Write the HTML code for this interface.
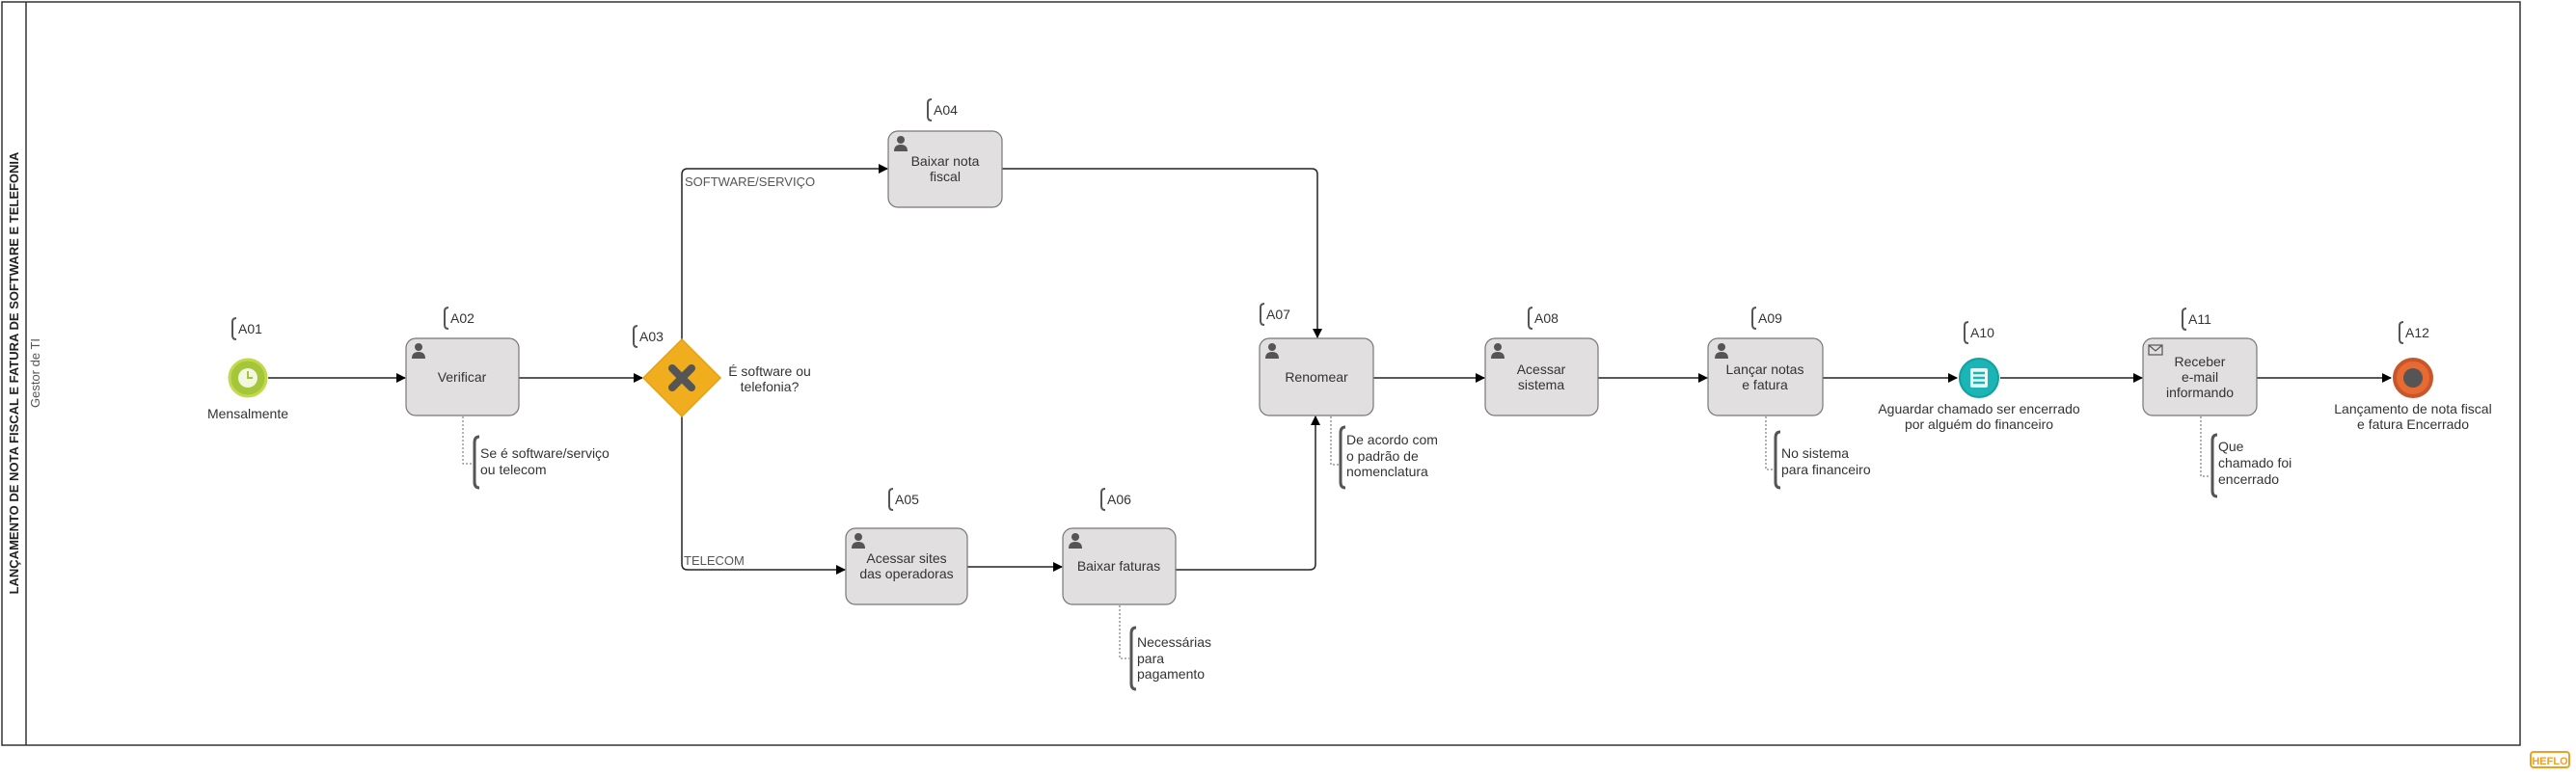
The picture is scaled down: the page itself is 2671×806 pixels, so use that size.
<!DOCTYPE html>
<html><head><meta charset="utf-8"><style>
html,body{margin:0;padding:0;background:#fff}
svg{display:block}
text{font-family:"Liberation Sans",sans-serif;fill:#333;font-size:14px}
.t{text-anchor:middle}
</style></head><body>
<svg width="2671" height="806" viewBox="0 0 2671 806" xmlns="http://www.w3.org/2000/svg">
<defs>
<marker id="ar" markerWidth="10" markerHeight="10" refX="9" refY="5" orient="auto" markerUnits="userSpaceOnUse"><path d="M0,0 L10,5 L0,10 z" fill="#000"/></marker>
<g id="user"><circle cx="0" cy="-4" r="4" fill="#555"/><path d="M-7,8 Q-7,1 0,1 Q7,1 7,8 z" fill="#555"/></g>
<path id="br" d="M6,0 Q0,0 0,6 L0,22 Q0,28 6,28" fill="none" stroke="#555" stroke-width="2.5"/>
</defs>
<!-- pool -->
<rect x="2" y="2" width="2611" height="771" fill="#fff" stroke="#333" stroke-width="1.5"/>
<line x1="27" y1="2" x2="27" y2="773" stroke="#333" stroke-width="1.5"/>
<text transform="translate(19,387) rotate(-90)" class="t" style="font-size:13px;font-weight:bold;fill:#222">LANÇAMENTO DE NOTA FISCAL E FATURA DE SOFTWARE E TELEFONIA</text>
<text transform="translate(41,387) rotate(-90)" class="t" style="font-size:13px;fill:#555">Gestor de TI</text>

<!-- connectors -->
<g stroke="#222" stroke-width="1.5" fill="none">
<line x1="278" y1="392" x2="420" y2="392" marker-end="url(#ar)"/>
<line x1="538" y1="392" x2="666" y2="392" marker-end="url(#ar)"/>
<path d="M707,352 L707,181 Q707,175 713,175 L920,175" marker-end="url(#ar)"/>
<path d="M707,432 L707,585 Q707,591 713,591 L876,591" marker-end="url(#ar)"/>
<line x1="1003" y1="588" x2="1101" y2="588" marker-end="url(#ar)"/>
<path d="M1039,175 L1360,175 Q1366,175 1366,181 L1366,350" marker-end="url(#ar)"/>
<path d="M1219,591 L1358,591 Q1364,591 1364,585 L1364,432" marker-end="url(#ar)"/>
<line x1="1424" y1="392" x2="1539" y2="392" marker-end="url(#ar)"/>
<line x1="1657" y1="392" x2="1770" y2="392" marker-end="url(#ar)"/>
<line x1="1890" y1="392" x2="2029" y2="392" marker-end="url(#ar)"/>
<line x1="2074" y1="392" x2="2221" y2="392" marker-end="url(#ar)"/>
<line x1="2340" y1="392" x2="2479" y2="392" marker-end="url(#ar)"/>
</g>
<text x="710" y="193" style="font-size:13px;fill:#555">SOFTWARE/SERVIÇO</text>
<text x="709" y="586" style="font-size:13px;fill:#555">TELECOM</text>

<!-- annotations dotted -->
<g stroke="#666" stroke-width="1" stroke-dasharray="2,2" fill="none">
<path d="M480,432 L480,481 L490,481"/>
<path d="M1380,432 L1380,482 L1388,482"/>
<path d="M1161,628 L1161,683 L1171,683"/>
<path d="M1831,432 L1831,487 L1839,487"/>
<path d="M2282,432 L2282,494 L2292,494"/>
</g>
<g stroke="#555" stroke-width="3" fill="none">
<path d="M497,453 Q492,453 492,459 L492,500 Q492,506 497,506"/>
<path d="M1395,443 Q1390,443 1390,449 L1390,500 Q1390,506 1395,506"/>
<path d="M1178,651 Q1173,651 1173,657 L1173,709 Q1173,715 1178,715"/>
<path d="M1846,448 Q1841,448 1841,454 L1841,500 Q1841,506 1846,506"/>
<path d="M2299,451 Q2294,451 2294,457 L2294,509 Q2294,515 2299,515"/>
</g>
<text x="498" y="475">Se é software/serviço</text><text x="498" y="492">ou telecom</text>
<text x="1396" y="461">De acordo com</text><text x="1396" y="478">o padrão de</text><text x="1396" y="494">nomenclatura</text>
<text x="1179" y="671">Necessárias</text><text x="1179" y="688">para</text><text x="1179" y="704">pagamento</text>
<text x="1847" y="475">No sistema</text><text x="1847" y="492">para financeiro</text>
<text x="2300" y="468">Que</text><text x="2300" y="485">chamado foi</text><text x="2300" y="502">encerrado</text>

<!-- ID labels -->
<g stroke="#555" stroke-width="2" fill="none">
<path d="M245,330 Q241,330 241,334 L241,348 Q241,352 245,352"/>
<path d="M465,319 Q461,319 461,323 L461,337 Q461,341 465,341"/>
<path d="M661,338 Q657,338 657,342 L657,356 Q657,360 661,360"/>
<path d="M966,103 Q962,103 962,107 L962,121 Q962,125 966,125"/>
<path d="M926,507 Q922,507 922,511 L922,525 Q922,529 926,529"/>
<path d="M1146,507 Q1142,507 1142,511 L1142,525 Q1142,529 1146,529"/>
<path d="M1311,315 Q1307,315 1307,319 L1307,333 Q1307,337 1311,337"/>
<path d="M1589,319 Q1585,319 1585,323 L1585,337 Q1585,341 1589,341"/>
<path d="M1821,319 Q1817,319 1817,323 L1817,337 Q1817,341 1821,341"/>
<path d="M2041,334 Q2037,334 2037,338 L2037,352 Q2037,356 2041,356"/>
<path d="M2267,320 Q2263,320 2263,324 L2263,338 Q2263,342 2267,342"/>
<path d="M2492,334 Q2488,334 2488,338 L2488,352 Q2488,356 2492,356"/>
</g>
<g style="font-size:13px">
<text x="247" y="346">A01</text><text x="467" y="335">A02</text><text x="663" y="354">A03</text>
<text x="968" y="119">A04</text><text x="928" y="523">A05</text><text x="1148" y="523">A06</text>
<text x="1313" y="331">A07</text><text x="1591" y="335">A08</text><text x="1823" y="335">A09</text>
<text x="2043" y="350">A10</text><text x="2269" y="336">A11</text><text x="2494" y="350">A12</text>
</g>

<!-- start event -->
<circle cx="257" cy="392" r="19" fill="#a4c639" stroke="#c3d84d" stroke-width="3"/>
<circle cx="257" cy="392" r="10" fill="#f3f6e0"/>
<path d="M257,385 L257,392 L262,392" stroke="#a4c639" stroke-width="2" fill="none"/>
<text x="257" y="434" class="t">Mensalmente</text>

<!-- gateway -->
<polygon points="707,352 747,392 707,432 667,392" fill="#f0ad1e" stroke="#e6a010" stroke-width="1.5"/>
<path d="M697,382 L717,402 M717,382 L697,402" stroke="#555" stroke-width="8" stroke-linecap="round"/>
<text x="798" y="390" class="t">É software ou</text><text x="798" y="406" class="t">telefonia?</text>

<!-- tasks -->
<g fill="#e1dfdf" stroke="#777" stroke-width="1.2">
<rect x="421" y="351" width="117" height="80" rx="10"/>
<rect x="921" y="136" width="118" height="79" rx="10"/>
<rect x="877" y="548" width="126" height="79" rx="10"/>
<rect x="1102" y="548" width="117" height="79" rx="10"/>
<rect x="1306" y="351" width="118" height="80" rx="10"/>
<rect x="1540" y="351" width="117" height="80" rx="10"/>
<rect x="1771" y="351" width="119" height="80" rx="10"/>
<rect x="2222" y="351" width="118" height="80" rx="10"/>
</g>
<use href="#user" x="434" y="364"/><use href="#user" x="934" y="149"/><use href="#user" x="890" y="561"/>
<use href="#user" x="1115" y="561"/><use href="#user" x="1319" y="364"/><use href="#user" x="1553" y="364"/>
<use href="#user" x="1785" y="364"/>
<rect x="2228" y="358" width="14" height="10" fill="none" stroke="#555" stroke-width="1.2"/>
<path d="M2228,358 L2235,364 L2242,358" fill="none" stroke="#555" stroke-width="1.2"/>
<text x="479" y="396" class="t">Verificar</text>
<text x="980" y="172" class="t">Baixar nota</text><text x="980" y="188" class="t">fiscal</text>
<text x="940" y="584" class="t">Acessar sites</text><text x="940" y="600" class="t">das operadoras</text>
<text x="1160" y="592" class="t">Baixar faturas</text>
<text x="1365" y="396" class="t">Renomear</text>
<text x="1598" y="388" class="t">Acessar</text><text x="1598" y="404" class="t">sistema</text>
<text x="1830" y="388" class="t">Lançar notas</text><text x="1830" y="404" class="t">e fatura</text>
<text x="2281" y="380" class="t">Receber</text><text x="2281" y="396" class="t">e-mail</text><text x="2281" y="412" class="t">informando</text>

<!-- A10 intermediate -->
<circle cx="2052" cy="392" r="20" fill="#1bb5b5" stroke="#12a0a0" stroke-width="2"/>
<rect x="2043" y="382" width="18" height="20" rx="2" fill="#e8f6f6"/>
<g stroke="#1bb5b5" stroke-width="2.5"><line x1="2046" y1="387" x2="2058" y2="387"/><line x1="2046" y1="392" x2="2058" y2="392"/><line x1="2046" y1="397" x2="2058" y2="397"/></g>
<text x="2052" y="429" class="t">Aguardar chamado ser encerrado</text>
<text x="2052" y="445" class="t">por alguém do financeiro</text>

<!-- end -->
<circle cx="2502" cy="392" r="19" fill="#e86a33" stroke="#c9562a" stroke-width="4"/>
<circle cx="2502" cy="392" r="10" fill="#555"/>
<text x="2502" y="429" class="t">Lançamento de nota fiscal</text>
<text x="2502" y="445" class="t">e fatura Encerrado</text>

<!-- logo -->
<rect x="2624" y="780" width="40" height="16" rx="3" fill="#fff" stroke="#f0a020" stroke-width="2"/>
<text x="2644" y="793" class="t" style="font-size:11px;font-weight:bold;fill:#f0a020">HEFLO</text>
</svg>
</body></html>
